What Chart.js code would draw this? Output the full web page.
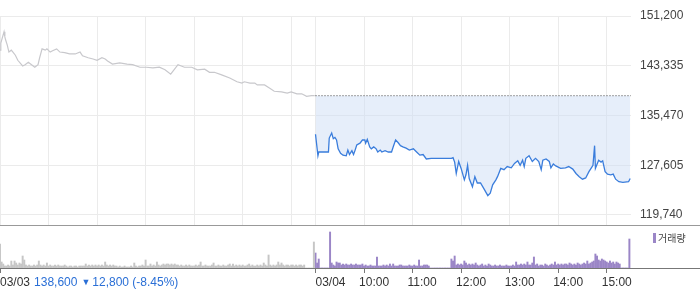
<!DOCTYPE html>
<html>
<head>
<meta charset="utf-8">
<script src="https://cdn.jsdelivr.net/npm/chart.js@4.4.1/dist/chart.umd.min.js"></script>
<style>
  html, body { margin: 0; padding: 0; background: #fff; }
  #wrap { position: relative; width: 700px; height: 289px; }
  #priceChart { position: absolute; left: 0; top: 0; }
  #volChart { position: absolute; left: 0; top: 226px; }
</style>
</head>
<body>
<div id="wrap">
  <canvas id="priceChart" width="700" height="226"></canvas>
  <canvas id="volChart" width="700" height="63"></canvas>
</div>
<script>
/* ---------- DATA ---------- */
const DAY = 390;      // minutes per session (09:00 - 15:30)
const BUCKET = 2;     // minutes per volume bar

const dayLabels = ['03/03', '03/04'];
const hourLabels = ['10:00', '11:00', '12:00', '13:00', '14:00', '15:00'];
const hourMinutes = [60, 120, 180, 240, 300, 360];

const priceTicks = [151200, 143335, 135470, 127605, 119740];

const prevClose = 138600;
const change = -12800;
const changePct = -8.45;

// 03/03 (minutes after 09:00)
const prevTimes = [0, 1, 5, 6, 7, 9, 11, 14, 16, 19, 22, 28, 31, 35, 39, 43, 47, 49, 52, 56,
  58, 62, 65, 70, 74, 80, 86, 93, 99, 102, 109, 115, 120, 126, 130, 133, 139, 148, 157, 164,
  173, 181, 189, 197, 204, 211, 220, 228, 237, 244, 253, 259, 265, 274, 284, 293, 299, 302, 309, 315,
  318, 327, 333, 339, 348, 355, 360, 367, 373, 379, 385, 389];
const prevPrices = [145800, 146900, 148700, 147900, 147400, 146600, 145500, 145800, 145500, 145000,
  144200, 143300, 143500, 143900, 143500, 143100, 143500, 144600, 146000, 145800,
  146000, 145500, 145700, 146000, 145500, 145400, 145200, 145200, 145500, 144900,
  144600, 144400, 144200, 144600, 144400, 144100, 143600, 143800, 143600, 143500,
  143100, 143100, 143000, 143100, 142700, 142000, 143500, 143100, 143100, 142700,
  142800, 142300, 142300, 141900, 141400, 140800, 140600, 140800, 140600, 140600,
  140300, 140300, 139800, 139300, 139200, 139000, 139200, 138900, 138900, 138500,
  138600, 138600];

// 03/04 (minutes after 09:00)
const todayTimes = [0, 3, 4, 16, 17, 20, 22, 24, 26, 28, 31, 34, 38, 40, 42, 45, 47, 49, 51, 55,
  58, 61, 62, 64, 67, 69, 72, 75, 77, 80, 82, 86, 90, 94, 96, 99, 102, 105, 108, 112,
  116, 121, 125, 129, 133, 137, 143, 168, 170, 172, 174, 177, 180, 184, 186, 188, 190, 194, 197, 200,
  204, 209, 213, 216, 219, 223, 225, 229, 233, 237, 242, 246, 250, 253, 256, 258, 260, 264, 268, 272,
  276, 279, 281, 285, 289, 291, 294, 297, 303, 309, 313, 318, 322, 326, 330, 334, 338, 341, 343, 345,
  346, 350, 353, 355, 358, 361, 365, 368, 371, 375, 380, 387, 389];
const todayPrices = [132500, 129100, 129700, 129700, 131900, 132700, 131800, 132000, 131600, 130200,
  129500, 129200, 129100, 130000, 129300, 129900, 129300, 130000, 130800, 131100,
  131600, 131600, 131100, 131700, 130500, 130200, 130500, 130200, 129700, 130000,
  129700, 129900, 129700, 129700, 130500, 131600, 131200, 130700, 130500, 130300,
  130000, 130200, 129700, 129200, 129300, 128600, 128700, 128700, 128800, 128100,
  126300, 128200, 127100, 125300, 126100, 127600, 125500, 124200, 125800, 124800,
  124800, 123700, 122800, 123200, 124500, 125300, 125800, 127100, 126900, 127400,
  127200, 127900, 128300, 127600, 128400, 127400, 128700, 129100, 128200, 128700,
  128200, 126900, 128400, 128600, 128200, 127200, 127800, 127500, 127100, 127200,
  127400, 127000, 126300, 125800, 125400, 125600, 126600, 127200, 127600, 130700,
  127100, 128400, 128100, 128300, 126600, 126200, 126100, 126200, 125400, 125000,
  124900, 125000, 125500];

// volume per 2-minute bucket (thousand shares)
const prevVolume = [24, 6, 4, 2, 2, 3, 2, 7, 3, 7, 5, 3, 5, 4, 12, 8, 3, 2, 3, 2,
  2, 3, 2, 3, 7, 3, 2, 3, 2, 5, 2, 3, 2, 2, 3, 2, 3, 2, 2, 2,
  3, 2, 1, 2, 2, 1, 2, 2, 1, 2, 2, 2, 2, 4, 2, 3, 2, 3, 2, 3,
  2, 3, 2, 3, 2, 6, 3, 2, 3, 2, 3, 2, 2, 1, 2, 1, 1, 2, 1, 1,
  1, 2, 1, 5, 2, 1, 2, 2, 3, 2, 8, 2, 2, 4, 2, 3, 2, 6, 3, 2,
  3, 4, 3, 4, 4, 3, 4, 3, 4, 3, 3, 2, 3, 2, 2, 3, 2, 3, 2, 2,
  2, 3, 2, 3, 6, 2, 2, 3, 2, 2, 2, 3, 5, 2, 2, 3, 2, 2, 3, 2,
  2, 3, 4, 2, 4, 2, 3, 2, 3, 2, 3, 2, 2, 3, 4, 2, 3, 2, 2, 3,
  2, 3, 2, 5, 3, 2, 13, 3, 2, 3, 2, 3, 6, 3, 5, 3, 2, 3, 3, 2,
  3, 3, 2, 3, 2, 3, 3, 2, 3, 0, 0, 0, 0, 0, 26];
const todayVolume = [15, 5, 9, 0, 0, 0, 0, 0, 0, 36, 5, 3, 2, 6, 5, 5, 3, 4, 3, 4,
  3, 3, 4, 3, 3, 4, 3, 3, 3, 4, 2, 3, 2, 2, 3, 2, 2, 2, 11, 2,
  2, 2, 3, 2, 3, 2, 4, 2, 4, 2, 2, 2, 3, 3, 2, 2, 2, 2, 3, 2,
  2, 3, 2, 2, 8, 2, 2, 3, 3, 3, 2, 0, 0, 0, 0, 0, 0, 0, 0, 0,
  0, 0, 0, 0, 9, 7, 12, 3, 4, 3, 4, 3, 7, 5, 3, 4, 3, 4, 3, 5,
  3, 2, 3, 4, 2, 3, 2, 4, 3, 2, 2, 3, 2, 2, 3, 2, 2, 2, 3, 2,
  2, 2, 3, 2, 6, 3, 3, 4, 3, 4, 3, 6, 3, 3, 5, 11, 3, 4, 2, 3,
  3, 2, 4, 3, 2, 3, 4, 3, 6, 3, 4, 3, 4, 3, 4, 4, 3, 5, 4, 3,
  4, 3, 5, 4, 3, 4, 5, 4, 7, 4, 5, 6, 7, 14, 12, 8, 7, 9, 8, 7,
  6, 5, 7, 5, 6, 4, 6, 5, 4, 0, 0, 0, 0, 0, 29];

/* ---------- STYLE ---------- */
const FONT = "'Liberation Sans', Arial, 'DejaVu Sans', sans-serif";
const GRID = '#ebebeb';
const BLUE_TEXT = '#2a6fd6';
const VOL_PURPLE = '#9b86c7';

const gridMinutes = [0, ...hourMinutes, DAY, ...hourMinutes.map(m => DAY + m)];
const axisMinutes = [0, DAY, ...hourMinutes.map(m => DAY + m)];

/* ---------- PRICE CHART ---------- */
const priceDecor = {
    id: 'priceDecor',
    afterDraw(chart) {
        const ctx = chart.ctx;
        const y = chart.chartArea.bottom + 0.5;
        ctx.save();
        ctx.strokeStyle = '#999';
        ctx.lineWidth = 1;
        ctx.beginPath();
        ctx.moveTo(0, y);
        ctx.lineTo(chart.width, y);
        ctx.stroke();
        ctx.restore();
    }
};

const priceChart = new Chart(document.getElementById('priceChart'), {
    type: 'line',
    plugins: [priceDecor],
    data: {
        datasets: [
            {
                data: prevTimes.map((t, i) => ({ x: t, y: prevPrices[i] })),
                borderColor: '#c8c8cc',
                borderWidth: 1.2,
                pointRadius: 0,
                fill: false
            },
            {
                data: [{ x: DAY, y: prevClose }, { x: DAY * 2, y: prevClose }],
                borderColor: '#444',
                borderWidth: 1,
                borderDash: [1, 2],
                pointRadius: 0,
                fill: false
            },
            {
                data: todayTimes.map((t, i) => ({ x: DAY + t, y: todayPrices[i] })),
                borderColor: '#3a7ddc',
                borderWidth: 1.3,
                pointRadius: 0,
                fill: { value: prevClose },
                backgroundColor: 'rgba(205,221,245,0.5)'
            }
        ]
    },
    options: {
        responsive: false,
        animation: false,
        events: [],
        layout: { padding: { top: 16, left: 0, right: 0, bottom: 0 } },
        plugins: { legend: { display: false }, tooltip: { enabled: false } },
        scales: {
            x: {
                type: 'linear',
                min: 0,
                max: DAY * 2,
                afterBuildTicks: s => { s.ticks = gridMinutes.map(v => ({ value: v })); },
                afterFit: s => { s.height = 1; },
                ticks: { display: false },
                grid: { color: GRID, drawTicks: false },
                border: { display: false }
            },
            y: {
                position: 'right',
                min: 118159,
                max: 151200,
                afterBuildTicks: s => { s.ticks = priceTicks.map(v => ({ value: v })); },
                afterFit: s => {
                    s.width = 69;
                    s.paddingTop = 0;
                    s.paddingBottom = 0;
                },
                ticks: {
                    padding: 0,
                    color: '#444',
                    font: { family: FONT, size: 12 },
                    callback: v => v.toLocaleString('en-US')
                },
                grid: { color: GRID, drawTicks: true, tickLength: 9, tickColor: 'rgba(0,0,0,0)' },
                border: { display: false }
            }
        }
    }
});

/* ---------- VOLUME CHART ---------- */
const volDecor = {
    id: 'volDecor',
    afterDraw(chart) {
        const ctx = chart.ctx;
        const xs = chart.scales.x;
        const base = chart.chartArea.bottom + 0.5;
        ctx.save();
        ctx.strokeStyle = '#777';
        ctx.lineWidth = 1;
        ctx.beginPath();
        ctx.moveTo(0, base);
        ctx.lineTo(chart.width, base);
        ctx.stroke();

        const ty = 57;
        ctx.font = '12px ' + FONT;
        ctx.textBaseline = 'middle';
        ctx.textAlign = 'left';

        // 03/03 + summary
        ctx.fillStyle = '#333';
        ctx.fillText(dayLabels[0], xs.getPixelForValue(0), ty);
        let x = ctx.measureText(dayLabels[0]).width + 4;
        ctx.fillStyle = BLUE_TEXT;
        const closeTxt = prevClose.toLocaleString('en-US');
        ctx.fillText(closeTxt, x, ty);
        x += ctx.measureText(closeTxt).width + 4;
        ctx.font = '9px ' + FONT;
        ctx.fillText(change < 0 ? '▼' : '▲', x, ty);
        x += ctx.measureText('▼').width + 2;
        ctx.font = '12px ' + FONT;
        ctx.fillText(Math.abs(change).toLocaleString('en-US') + ' (' + changePct.toFixed(2) + '%)', x, ty);

        // 03/04 + hours
        ctx.fillStyle = '#333';
        ctx.fillText(dayLabels[1], xs.getPixelForValue(DAY), ty);
        hourLabels.forEach((lab, i) => {
            ctx.fillText(lab, xs.getPixelForValue(DAY + hourMinutes[i]) - 5, ty);
        });

        // legend
        ctx.fillStyle = VOL_PURPLE;
        ctx.fillRect(653, 7, 3, 10);
        ctx.fillStyle = '#444';
        ctx.font = "10px 'Noto Sans CJK KR', sans-serif";
        ctx.fillText('거래량', 658, 12);
        ctx.restore();
    }
};

const volChart = new Chart(document.getElementById('volChart'), {
    type: 'bar',
    plugins: [volDecor],
    data: {
        datasets: [
            {
                data: prevVolume.map((v, i) => ({ x: i * BUCKET, y: v })),
                backgroundColor: '#c6c6c6',
                barThickness: 1.3,
                grouped: false
            },
            {
                data: todayVolume.map((v, i) => ({ x: DAY + i * BUCKET, y: v })),
                backgroundColor: VOL_PURPLE,
                barThickness: 1.3,
                grouped: false
            }
        ]
    },
    options: {
        responsive: false,
        animation: false,
        events: [],
        layout: { padding: { top: 0, left: 0, right: 69, bottom: 0 } },
        plugins: { legend: { display: false }, tooltip: { enabled: false } },
        scales: {
            x: {
                type: 'linear',
                offset: false,
                min: 0,
                max: DAY * 2,
                afterBuildTicks: s => { s.ticks = axisMinutes.map(v => ({ value: v })); },
                afterFit: s => { s.height = 21; },
                ticks: { display: false },
                grid: { offset: false, drawOnChartArea: false, drawTicks: true, tickLength: 5, color: '#777' },
                border: { display: false }
            },
            y: { display: false, min: 0, max: 42 }
        }
    }
});
</script>
</body>
</html>
